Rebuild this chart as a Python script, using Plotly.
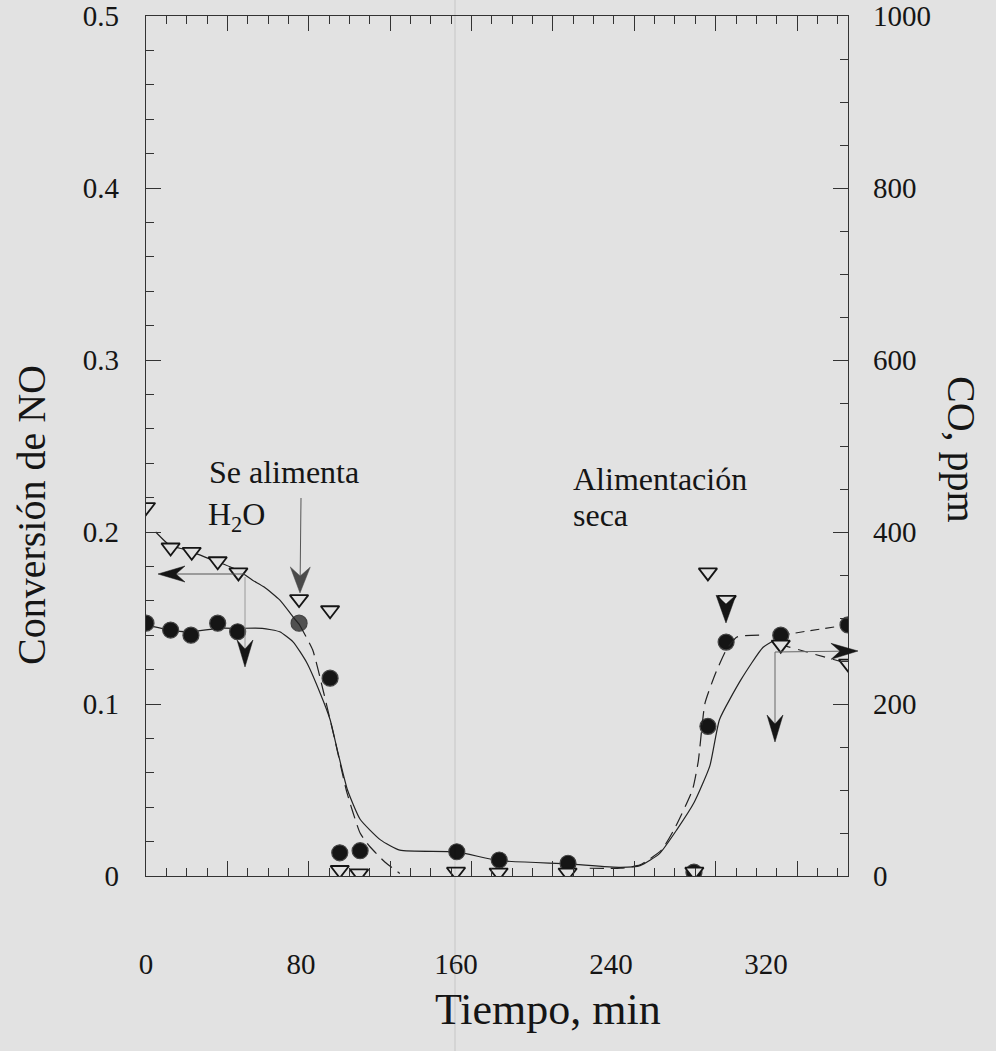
import plotly.graph_objects as go

# ---------------- data ----------------
# NO conversion (filled circles, left axis)
t_no = [0, 12.7, 23.2, 37, 47.3, 79, 95, 100, 110.5, 160.4, 182.3, 217.8, 282.8, 290, 299.4, 327.6, 362.3]
conv_no = [0.147, 0.143, 0.140, 0.147, 0.142, 0.147, 0.115, 0.0135, 0.0147, 0.0141, 0.0093, 0.0074,
           0.0023, 0.087, 0.136, 0.140, 0.146]
# CO concentration (open triangles, right axis)
t_co = [0, 12.7, 23.6, 37, 47.7, 79, 95, 100, 110, 160, 182, 217.6, 283, 290, 299.7, 327.6, 362.3]
co_ppm = [429, 382, 377, 366, 353, 322, 309, 7, 3, 5, 4, 4, 5, 353, 321, 269, 247]

# hand-drawn trend curves
fit_no_t = [0, 12, 23, 37, 48, 60, 69, 76, 83, 90, 95, 99, 104, 110.5, 121, 131, 160, 182, 218,
            245, 255, 265, 274, 283, 291, 296, 307, 318.5, 327.5]
fit_no_c = [0.146, 0.143, 0.142, 0.144, 0.144, 0.144, 0.142, 0.136, 0.124, 0.106, 0.091, 0.072,
            0.050, 0.033, 0.021, 0.015, 0.014, 0.009, 0.007, 0.005, 0.006, 0.013, 0.027, 0.043,
            0.064, 0.091, 0.114, 0.133, 0.139]
tail_no_t = [327.6, 362.3]
tail_no_c = [0.140, 0.146]

co_left_t = [5, 12, 21, 35, 47, 55, 61, 69, 76, 79]
co_left_p = [400, 385, 379, 367, 356, 344, 336, 321, 301, 293]
co_drop_t = [79, 86, 91.4, 97.5, 103.7, 110.5, 115.6, 123.4, 131]
co_drop_p = [293, 263, 216, 158, 97, 50, 34, 16, 3]
co_rise_t = [229, 245, 255, 266, 273, 282, 285, 288.5, 294, 299.5, 305, 317]
co_rise_p = [9, 9, 13, 30, 56, 100, 133, 201, 236, 263, 278, 280]
tail_co_t = [327.6, 362.3]
tail_co_p = [269, 247]

x_ticklabels = [0, 80, 160, 240, 320]
y_left_ticks = [0, 0.1, 0.2, 0.3, 0.4, 0.5]
y_right_ticks = [0, 200, 400, 600, 800, 1000]

# ---------------- styling ----------------
BG = "#e2e2e2"
INK = "#151515"
FONT = "Liberation Serif, Times New Roman, serif"
W, H = 996, 1051
L, R, T, B = 146, 148, 16, 175
PW, PH = W - L - R, H - T - B
XMAX = 362.3


def px(xp):
    return (xp - L) / PW


def py(yp):
    return (H - B - yp) / PH


fig = go.Figure()

line_style = dict(color="#222", width=1.2)

fig.add_trace(go.Scatter(x=fit_no_t, y=fit_no_c, mode="lines", line=dict(**line_style, shape="spline", smoothing=0.5),
                         hoverinfo="skip", showlegend=False))
fig.add_trace(go.Scatter(x=tail_no_t, y=tail_no_c, mode="lines", line=dict(color="#222", width=1.1, dash="9px,6px"),
                         hoverinfo="skip", showlegend=False))
fig.add_trace(go.Scatter(x=co_left_t, y=co_left_p, yaxis="y2", mode="lines",
                         line=dict(**line_style, shape="spline", smoothing=0.5), hoverinfo="skip", showlegend=False))
fig.add_trace(go.Scatter(x=co_drop_t, y=co_drop_p, yaxis="y2", mode="lines",
                         line=dict(color="#222", width=1.2, dash="14px,7px", shape="spline", smoothing=0.5),
                         hoverinfo="skip", showlegend=False))
fig.add_trace(go.Scatter(x=co_rise_t, y=co_rise_p, yaxis="y2", mode="lines",
                         line=dict(color="#222", width=1.2, dash="14px,7px", shape="spline", smoothing=0.5),
                         hoverinfo="skip", showlegend=False))
fig.add_trace(go.Scatter(x=tail_co_t, y=tail_co_p, yaxis="y2", mode="lines",
                         line=dict(color="#222", width=1.1, dash="10px,8px"), hoverinfo="skip", showlegend=False))

circle_colors = [INK] * len(t_no)
circle_colors[5] = "#505050"
fig.add_trace(go.Scatter(x=t_no, y=conv_no, mode="markers", name="Conversión de NO",
                         marker=dict(symbol="circle", size=16, color=circle_colors,
                                     line=dict(color="#444", width=1.2)),
                         showlegend=False))
fig.add_trace(go.Scatter(x=t_co, y=co_ppm, yaxis="y2", mode="markers", name="CO, ppm",
                         marker=dict(symbol="triangle-down", size=16, color=BG,
                                     line=dict(color=INK, width=1.8)),
                         showlegend=False))
# carrier for the tick-mark axis
fig.add_trace(go.Scatter(x=[None], y=[None], xaxis="x2", mode="lines", hoverinfo="skip", showlegend=False))

# ---------------- arrows (shapes) ----------------
shapes = []


def arrow(x0, y0, x1, y1, hl=26, hw=9, notch=9, color=INK, stem_color="#555", stem_w=1.0, stem=True):
    dx, dy = x1 - x0, y1 - y0
    n = (dx * dx + dy * dy) ** 0.5
    ux, uy = dx / n, dy / n
    nx, ny = -uy, ux
    bx, by = x1 - ux * hl, y1 - uy * hl
    mx, my = x1 - ux * (hl - notch), y1 - uy * (hl - notch)
    if stem:
        shapes.append(dict(type="line", xref="paper", yref="paper", x0=px(x0), y0=py(y0), x1=px(mx), y1=py(my),
                           line=dict(color=stem_color, width=stem_w)))
    pts = [(x1, y1), (bx + nx * hw, by + ny * hw), (mx, my), (bx - nx * hw, by - ny * hw)]
    path = "M " + " L ".join(f"{px(a):.5f},{py(b):.5f}" for a, b in pts) + " Z"
    shapes.append(dict(type="path", xref="paper", yref="paper", path=path, fillcolor=color,
                       line=dict(color=color, width=0.5)))


# scan fold line
shapes.append(dict(type="line", xref="paper", yref="paper", x0=px(455), x1=px(455), y0=py(1051), y1=py(0),
                   line=dict(color="rgba(0,0,0,0.10)", width=1.2)))

arrow(301, 498, 300, 593, hl=26, hw=10, notch=9, color="#4a4a4a", stem_color="#555")
arrow(245, 574, 158, 574, hl=27, hw=8)
arrow(245, 577, 245, 667, hl=27, hw=8, stem_color="#888", stem_w=0.8)
arrow(775, 652, 775, 742, hl=27, hw=8, stem_color="#666")
arrow(775, 652, 858, 651, hl=27, hw=8, stem_color="#666")
arrow(726, 590, 726, 623, hl=28, hw=10, notch=9, stem=False)

# ---------------- annotations ----------------
ann = []
TXT = dict(family=FONT, size=32, color=INK)
ann.append(dict(text="Se alimenta", x=px(207), y=py(472), xref="paper", yref="paper", xanchor="left",
                yanchor="middle", showarrow=False, font=TXT))
ann.append(dict(text="H<sub>2</sub>O", x=px(206), y=py(516), xref="paper", yref="paper", xanchor="left",
                yanchor="middle", showarrow=False, font=TXT))
ann.append(dict(text="Alimentación", x=px(571), y=py(479), xref="paper", yref="paper", xanchor="left",
                yanchor="middle", showarrow=False, font=TXT))
ann.append(dict(text="seca", x=px(571), y=py(515), xref="paper", yref="paper", xanchor="left",
                yanchor="middle", showarrow=False, font=TXT))
TT = dict(family=FONT, size=40, color=INK)
ann.append(dict(text="Tiempo, min", x=px(548), y=py(1010), xref="paper", yref="paper", xanchor="center",
                yanchor="middle", showarrow=False, font=dict(family=FONT, size=44, color=INK)))
ann.append(dict(text="Conversión de NO", x=px(31), y=py(515), xref="paper", yref="paper", xanchor="center",
                yanchor="middle", showarrow=False, font=TT, textangle=-90))
ann.append(dict(text="CO, ppm", x=px(961), y=py(449), xref="paper", yref="paper", xanchor="center",
                yanchor="middle", showarrow=False, font=TT, textangle=90))

TICKF = dict(family=FONT, size=29, color=INK)
AX = "#333"

fig.update_layout(
    width=W, height=H, margin=dict(l=L, r=R, t=T, b=B, autoexpand=False), autosize=False,
    paper_bgcolor=BG, plot_bgcolor=BG, showlegend=False,
    shapes=shapes, annotations=ann,
    xaxis=dict(range=[0, XMAX], showgrid=False, zeroline=False, showline=True, linecolor=AX, linewidth=1.4,
               mirror=True, tickmode="array", tickvals=x_ticklabels, ticks="", tickfont=TICKF,
               ticklabelstandoff=62, automargin=False),
    xaxis2=dict(range=[0, XMAX], overlaying="x", anchor="y", side="bottom", showgrid=False, zeroline=False,
                showline=False, tickmode="array", tickvals=[0, 42, 84, 126, 168, 210, 252, 294, 336],
                ticks="inside", ticklen=15, tickwidth=1.2, tickcolor=AX, mirror="ticks", showticklabels=False,
                automargin=False,
                minor=dict(tick0=0, dtick=10.5, ticks="inside", ticklen=8, tickwidth=1.1, tickcolor=AX,
                           showgrid=False)),
    yaxis=dict(range=[0, 0.5], showgrid=False, zeroline=False, showline=True, linecolor=AX, linewidth=1.4,
               tickmode="array", tickvals=y_left_ticks, ticktext=["0", "0.1", "0.2", "0.3", "0.4", "0.5"],
               ticks="inside", ticklen=15, tickwidth=1.2, tickcolor=AX, tickfont=TICKF,
               ticklabelstandoff=20, automargin=False,
               minor=dict(dtick=0.02, tick0=0, ticks="inside", ticklen=8, tickwidth=1.1, tickcolor=AX,
                          showgrid=False)),
    yaxis2=dict(range=[0, 1000], overlaying="y", side="right", anchor="x", showgrid=False, zeroline=False,
                showline=True, linecolor=AX, linewidth=1.4, tickmode="array", tickvals=y_right_ticks,
                ticks="inside", ticklen=15, tickwidth=1.2, tickcolor=AX, tickfont=TICKF,
                ticklabelstandoff=18, automargin=False,
                minor=dict(dtick=50, tick0=0, ticks="inside", ticklen=8, tickwidth=1.1, tickcolor=AX,
                           showgrid=False)),
)

fig.write_html("out.html")
